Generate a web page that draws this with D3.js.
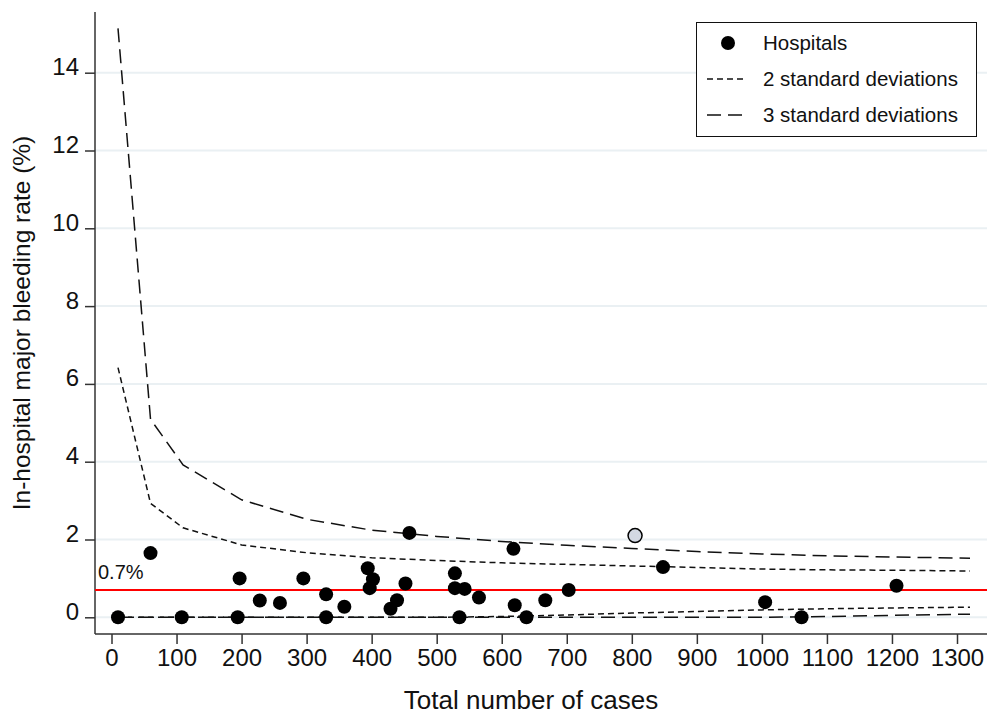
<!DOCTYPE html>
<html>
<head>
<meta charset="utf-8">
<script src="https://cdn.jsdelivr.net/npm/d3@7"></script>
<style>
    body { margin: 0; background: #fff; }
    svg { display: block; font-family: "Liberation Sans", Arial, sans-serif; }
</style>
</head>
<body>
<div id="chart"></div>
<script>
// Hospital volumes (total cases) and bleeding rates (%)
const hospitalCases = [10, 60, 108, 194, 197, 228, 259, 295, 330, 330, 358, 394, 397, 402, 429, 439, 452, 458,
    528, 528, 535, 543, 565, 618, 620, 638, 667, 703, 805, 848, 1005, 1061, 1207];
const hospitalRates = [0, 1.65, 0, 0, 1.0, 0.43, 0.37, 1.0, 0.59, 0, 0.27, 1.26, 0.75, 0.98, 0.22, 0.44, 0.87, 2.17,
    1.13, 0.75, 0, 0.73, 0.51, 1.76, 0.31, 0, 0.44, 0.70, 2.10, 1.29, 0.39, 0, 0.81];
// the one hospital above the 3 SD limit
const outlierCases = 805;

// Funnel limits
const limitCases = [10, 60, 110, 200, 300, 400, 500, 600, 700, 800, 900, 1000, 1100, 1200, 1320];
const upper2sd = [6.42, 2.93, 2.30, 1.86, 1.66, 1.53, 1.46, 1.40, 1.36, 1.32, 1.28, 1.24, 1.22, 1.21, 1.19];
const lower2sd = [0, 0, 0, 0, 0, 0, 0, 0.02, 0.06, 0.11, 0.15, 0.19, 0.22, 0.24, 0.26];
const upper3sd = [15.14, 5.09, 3.92, 3.02, 2.52, 2.24, 2.08, 1.95, 1.85, 1.77, 1.69, 1.63, 1.58, 1.55, 1.52];
const lower3sd = [0, 0, 0, 0, 0, 0, 0, 0, 0, 0, 0, 0, 0.02, 0.05, 0.08];

const overallRate = 0.7;
const xTicks = d3.range(0, 1301, 100);
const yTicks = [0, 2, 4, 6, 8, 10, 12, 14];

const W = 987, H = 715;
const plot = {left: 95, right: 987, top: 12, bottom: 634};
const FONT = '"Liberation Sans", Arial, sans-serif';

const svg = d3.select('#chart').append('svg')
    .attr('width', W)
    .attr('height', H);

const x = d3.scaleLinear().domain([0, 1300]).range([111.5, 957]);
const y = d3.scaleLinear().domain([0, 14]).range([617.3, 72.7]);

// gridlines
svg.append('g')
    .selectAll('line')
    .data(yTicks)
    .enter().append('line')
    .attr('x1', plot.left).attr('x2', plot.right)
    .attr('y1', d => y(d)).attr('y2', d => y(d))
    .attr('stroke', '#eaf0f3')
    .attr('stroke-width', 2);

// axes
const xAxis = svg.append('g')
    .attr('transform', `translate(0,${plot.bottom})`)
    .call(d3.axisBottom(x).tickValues(xTicks).tickFormat(d3.format('d')).tickSize(10).tickPadding(5));
xAxis.select('.domain').remove();
xAxis.selectAll('line').attr('stroke', '#333').attr('stroke-width', 1.5);
xAxis.selectAll('text').attr('font-size', 24).attr('fill', '#111').attr('font-family', FONT);

const yAxis = svg.append('g')
    .attr('transform', `translate(${plot.left},0)`)
    .call(d3.axisLeft(y).tickValues(yTicks).tickSize(10).tickPadding(6));
yAxis.select('.domain').remove();
yAxis.selectAll('line').attr('stroke', '#333').attr('stroke-width', 1.5);
yAxis.selectAll('text').attr('font-size', 24).attr('fill', '#111')
    .attr('dy', '0.08em')
    .attr('font-family', FONT);

svg.append('line')
    .attr('x1', plot.left).attr('x2', plot.left)
    .attr('y1', plot.top).attr('y2', plot.bottom)
    .attr('stroke', '#333').attr('stroke-width', 1.5);
svg.append('line')
    .attr('x1', plot.left).attr('x2', plot.right)
    .attr('y1', plot.bottom).attr('y2', plot.bottom)
    .attr('stroke', '#333').attr('stroke-width', 1.5);

// axis titles
svg.append('text')
    .attr('x', 531)
    .attr('y', 709)
    .attr('text-anchor', 'middle')
    .attr('font-size', 26)
    .attr('fill', '#111')
    .text('Total number of cases');

svg.append('text')
    .attr('transform', `translate(30,${(plot.top + plot.bottom) / 2}) rotate(-90)`)
    .attr('text-anchor', 'middle')
    .attr('font-size', 24.5)
    .attr('fill', '#111')
    .text('In-hospital major bleeding rate (%)');

// overall rate line
svg.append('line')
    .attr('x1', plot.left).attr('x2', plot.right)
    .attr('y1', y(overallRate)).attr('y2', y(overallRate))
    .attr('stroke', '#ff0000')
    .attr('stroke-width', 2);

svg.append('text')
    .attr('x', 98)
    .attr('y', 579)
    .attr('font-size', 20)
    .attr('fill', '#111')
    .text(overallRate + '%');

// funnel limit lines
const limitLine = vals => d3.line()
    .x((d, i) => x(limitCases[i]))
    .y((d, i) => y(vals[i]))(vals);

const limits = [
    {vals: upper2sd, dash: '6,4'},
    {vals: lower2sd, dash: '6,4'},
    {vals: upper3sd, dash: '14,7'},
    {vals: lower3sd, dash: '14,7'}
];
limits.forEach(l => {
    svg.append('path')
        .attr('d', limitLine(l.vals))
        .attr('fill', 'none')
        .attr('stroke', '#111')
        .attr('stroke-width', 1.5)
        .attr('stroke-dasharray', l.dash);
});

// hospitals
svg.append('g')
    .selectAll('circle')
    .data(hospitalCases)
    .enter().append('circle')
    .attr('cx', d => x(d))
    .attr('cy', (d, i) => y(hospitalRates[i]))
    .attr('r', 7)
    .attr('fill', d => d === outlierCases ? '#d3d8e2' : '#000')
    .attr('stroke', '#000')
    .attr('stroke-width', d => d === outlierCases ? 1.5 : 0);

// legend
const legend = svg.append('g');
legend.append('rect')
    .attr('x', 696.5).attr('y', 22.5)
    .attr('width', 280).attr('height', 114)
    .attr('fill', '#fff')
    .attr('stroke', '#111')
    .attr('stroke-width', 1);

const legendItems = [
    {label: 'Hospitals', y: 43},
    {label: '2 standard deviations', y: 79, dash: '6,4'},
    {label: '3 standard deviations', y: 115, dash: '14,7'}
];
legendItems.forEach(item => {
    if (item.dash) {
        legend.append('line')
            .attr('x1', 707).attr('x2', 746)
            .attr('y1', item.y).attr('y2', item.y)
            .attr('stroke', '#111')
            .attr('stroke-width', 1.5)
            .attr('stroke-dasharray', item.dash);
    } else {
        legend.append('circle')
            .attr('cx', 728).attr('cy', item.y)
            .attr('r', 7)
            .attr('fill', '#000');
    }
    legend.append('text')
        .attr('x', 763)
        .attr('y', item.y)
        .attr('dy', '0.35em')
        .attr('font-size', 20.5)
        .attr('fill', '#111')
        .text(item.label);
});
</script>
</body>
</html>
